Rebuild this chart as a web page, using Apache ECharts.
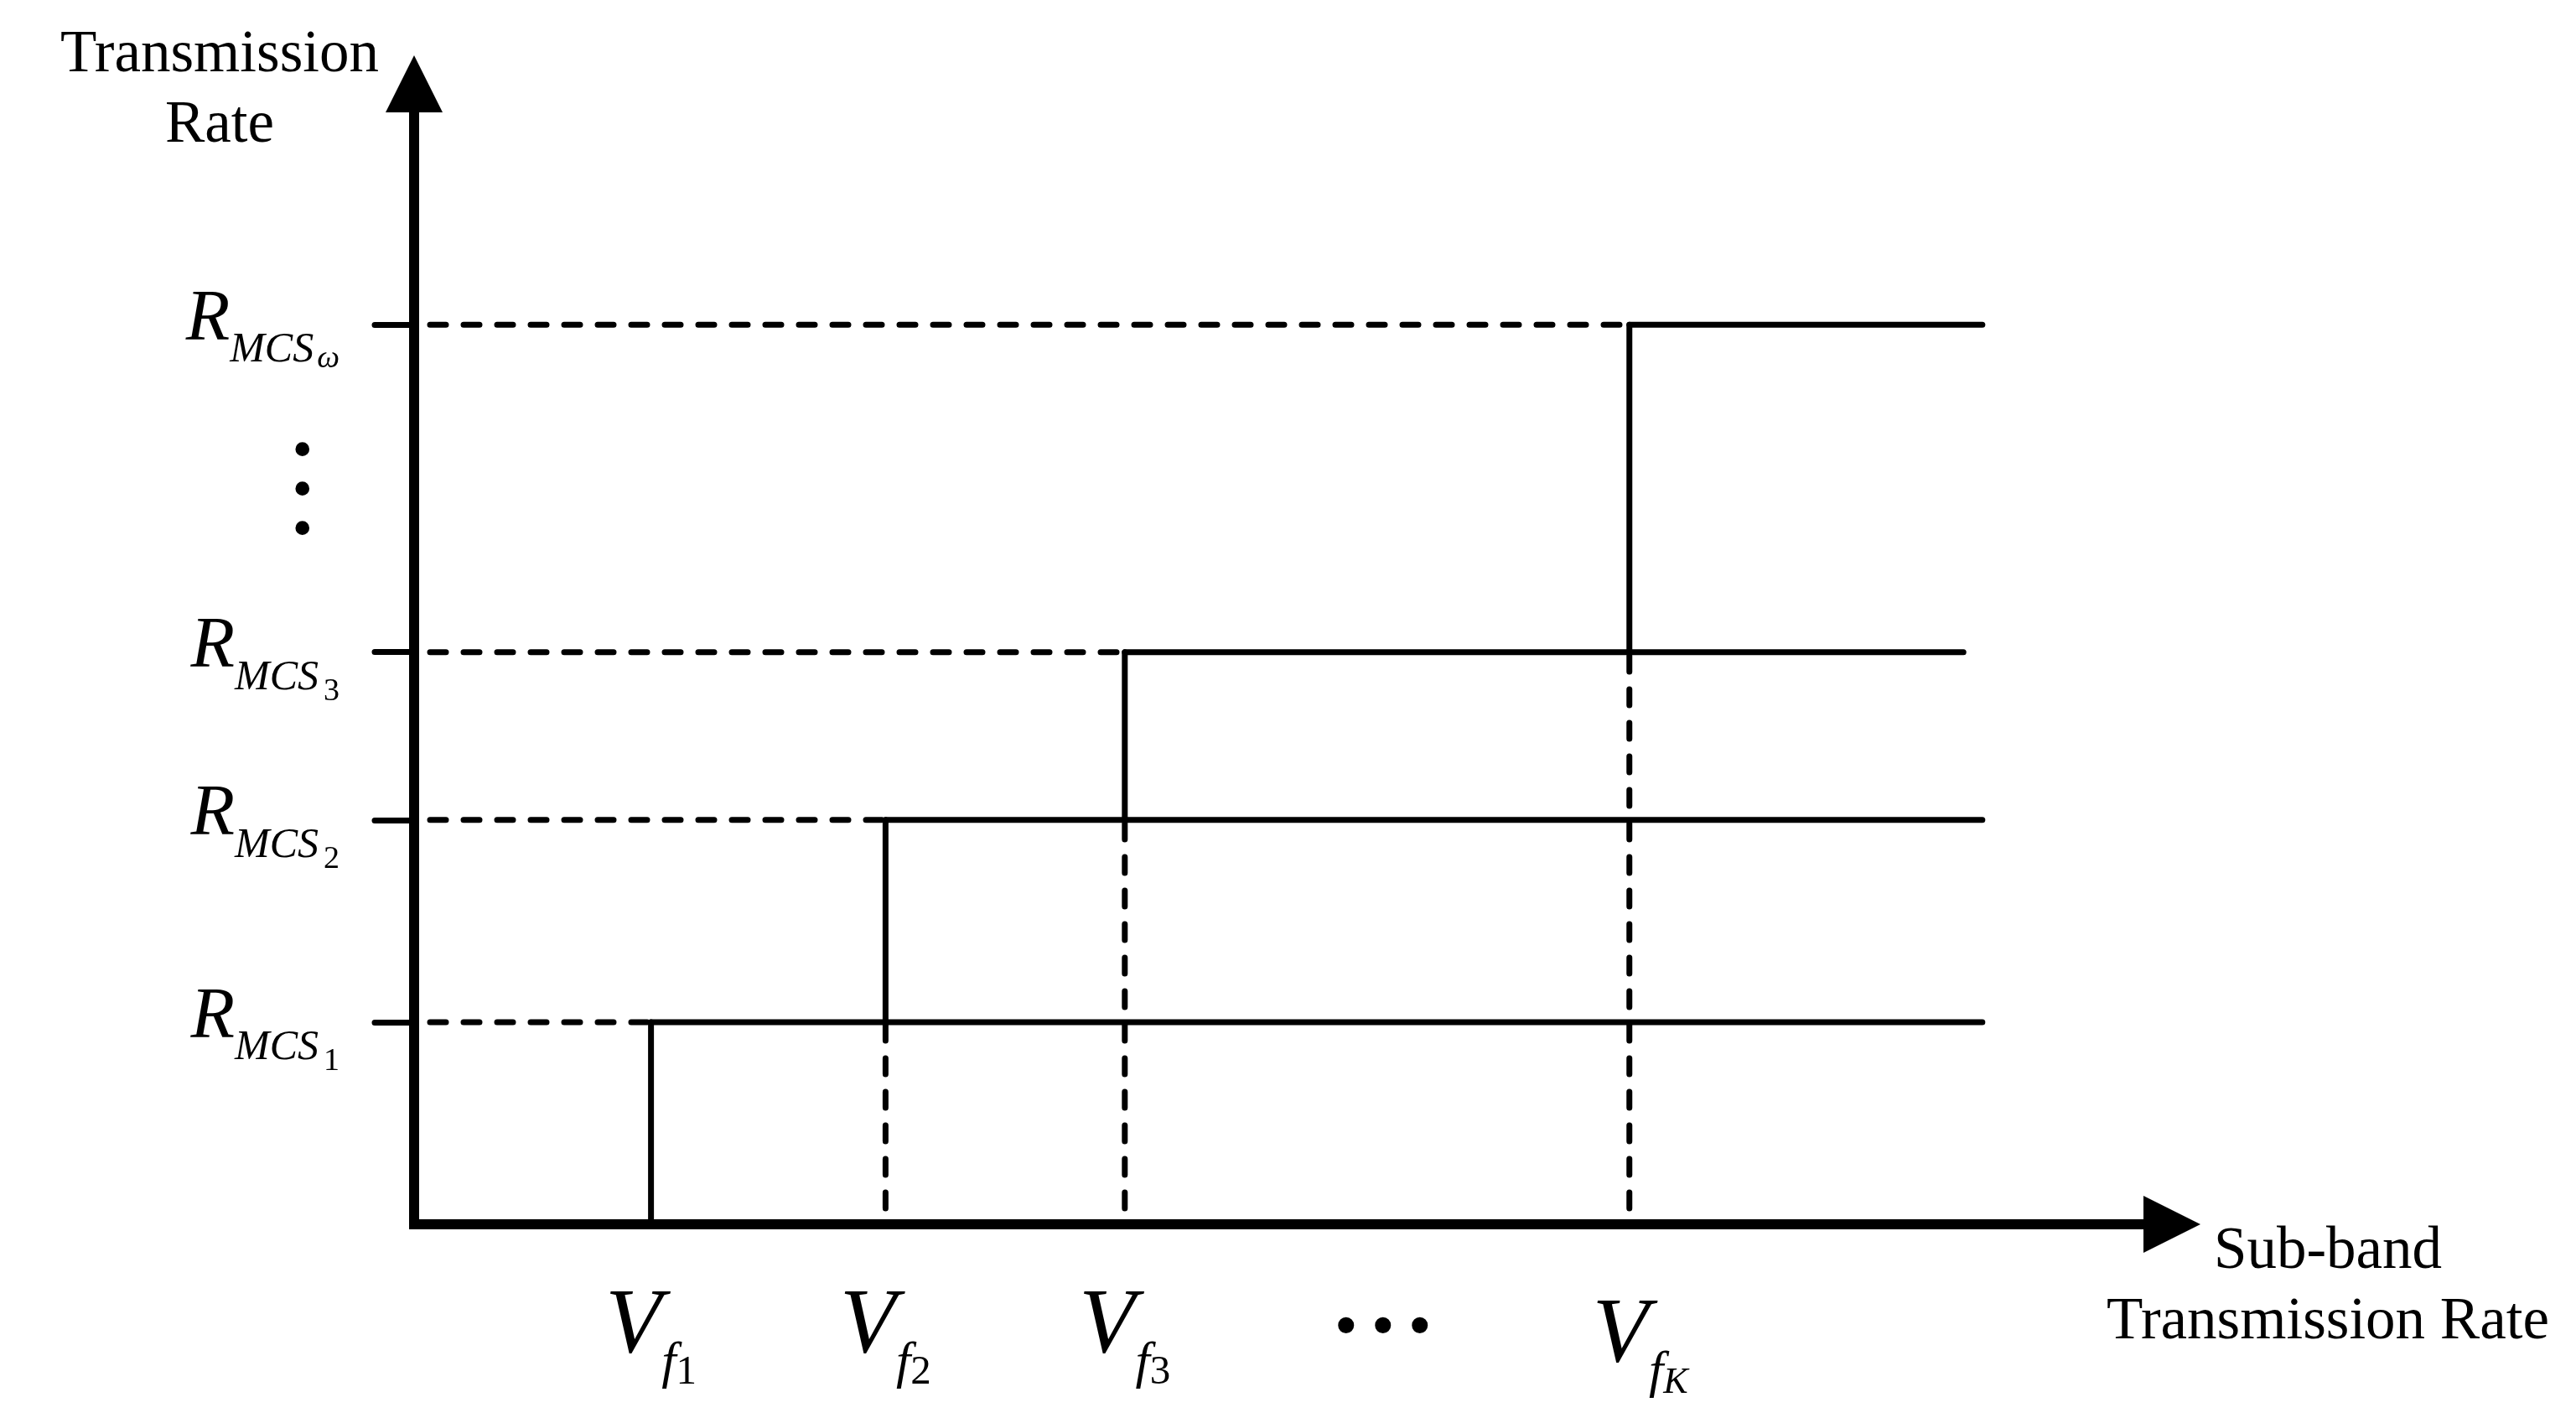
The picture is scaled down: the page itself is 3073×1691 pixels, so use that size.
<!DOCTYPE html>
<html><head><meta charset="utf-8">
<script src="https://cdn.jsdelivr.net/npm/echarts@6/dist/echarts.min.js"></script>
<style>html,body{margin:0;padding:0;background:#fff}#c{width:3073px;height:1691px}</style>
</head><body><div id="c"></div>
<script>
// ---- data ----
const rateLabels = ['R_MCS1', 'R_MCS2', 'R_MCS3', 'R_MCSω'];
const rateLevels = [1, 2, 2.83, 4.45];
const rateEllipsis = 3.62;
const bandLabels = ['V_f1', 'V_f2', 'V_f3', 'V_fK'];
const bandThresholds = [1, 1.99, 3, 5.13];
const bandEllipsis = 4.09;
const stepEnds = [6.62, 6.62, 6.54, 6.62];
const xMax = 7.3, yMax = 5.5;
const yAxisTitle = 'Transmission\nRate';
const xAxisTitle = 'Sub-band\nTransmission Rate';

const SERIF = 'Liberation Serif';
function rs(size, italic, pad) {
  return { fontFamily: SERIF, fontSize: size, fontStyle: italic ? 'italic' : 'normal',
           color: '#000', verticalAlign: 'top', padding: pad };
}

const series = [];
function seg(x0, y0, x1, y1, dashed) {
  series.push({
    type: 'line', data: [[x0, y0], [x1, y1]], symbol: 'none', silent: true, z: 3,
    lineStyle: { color: '#000', width: 7, cap: 'round',
                 type: dashed ? [19, 21] : 'solid', dashOffset: dashed ? 21 : 0 }
  });
}
rateLevels.forEach((lv, i) => {
  const x = bandThresholds[i];
  const prev = i === 0 ? 0 : rateLevels[i - 1];
  seg(0, lv, x, lv, true);
  seg(x, lv, stepEnds[i], lv, false);
  if (i > 0) seg(x, 0, x, prev, true);
  seg(x, prev, x, lv, false);
});

const chart = echarts.init(document.getElementById('c'), null, { renderer: 'canvas' });
chart.setOption({
  animation: false,
  backgroundColor: '#fff',
  title: [
    { text: yAxisTitle, left: 262, top: 24, padding: 0, textAlign: 'center',
      textStyle: { fontFamily: SERIF, fontWeight: 'normal', fontSize: 71, lineHeight: 84, color: '#000' } },
    { text: xAxisTitle, left: 2777, top: 1451, padding: 0, textAlign: 'center',
      textStyle: { fontFamily: SERIF, fontWeight: 'normal', fontSize: 71, lineHeight: 84, color: '#000' } }
  ],
  grid: { left: 494, top: 134, right: 516, bottom: 231, outerBoundsMode: 'none', containLabel: false },
  xAxis: {
    type: 'value', min: 0, max: xMax,
    splitLine: { show: false },
    axisTick: { show: false },
    axisLine: { show: true, onZero: false, symbol: ['none', 'triangle'], symbolSize: [68, 68], symbolOffset: [0, 34],
                lineStyle: { color: '#000', width: 12, cap: 'square' } },
    axisLabel: {
      customValues: [bandThresholds[0], bandThresholds[1], bandThresholds[2], bandEllipsis, bandThresholds[3]],
      margin: 40,
      formatter: function (v) {
        const i = bandThresholds.indexOf(v);
        if (i < 0) return '{dd|•}{dd|•}{dd|•}';
        const sub = bandLabels[i].split('_f')[1];
        if (sub === 'K') return '{Vk|V}{fk|f}{K|K}';
        return '{V|V}{f|f}{n|' + sub + '}';
      },
      rich: {
        V: rs(110, true, [28, 0, 42, 0]),
        f: rs(62, true, [96, 0, 22, 0]),
        n: rs(49, false, [113, 0, 18, 0]),
        Vk: rs(110, true, [39, 0, 31, 26]),
        fk: rs(62, true, [107, 0, 11, 0]),
        K: rs(44, true, [127, 0, 9, 0]),
        dd: rs(80, false, [46, 8, 54, 8])
      }
    }
  },
  yAxis: {
    type: 'value', min: 0, max: yMax,
    splitLine: { show: false },
    axisLine: { show: true, onZero: false, symbol: ['none', 'triangle'], symbolSize: [68, 68], symbolOffset: [0, 34],
                lineStyle: { color: '#000', width: 12, cap: 'square' } },
    axisTick: { show: true, customValues: rateLevels, length: 47, lineStyle: { color: '#000', width: 7, cap: 'round' } },
    axisLabel: {
      customValues: [rateLevels[0], rateLevels[1], rateLevels[2], rateEllipsis, rateLevels[3]],
      margin: 89,
      formatter: function (v) {
        const i = rateLevels.indexOf(v);
        if (i < 0) return '{d|•}\n{d|•}\n{d|•}';
        const sub = rateLabels[i].slice(5);
        return '{R|R}{M|MCS}{' + (sub === 'ω' ? 'w' : 's') + '|' + sub + '}';
      },
      rich: {
        R: rs(86, true, [32, 0, 42, 0]),
        M: rs(50, true, [86, 0, 24, 0]),
        s: rs(38, false, [108, 0, 14, 6]),
        w: rs(38, true, [102, 0, 20, 4]),
        d: { fontFamily: SERIF, fontSize: 70, color: '#000', lineHeight: 47, padding: [0, 32, 0, 0] }
      }
    }
  },
  series: series
});
</script></body></html>
